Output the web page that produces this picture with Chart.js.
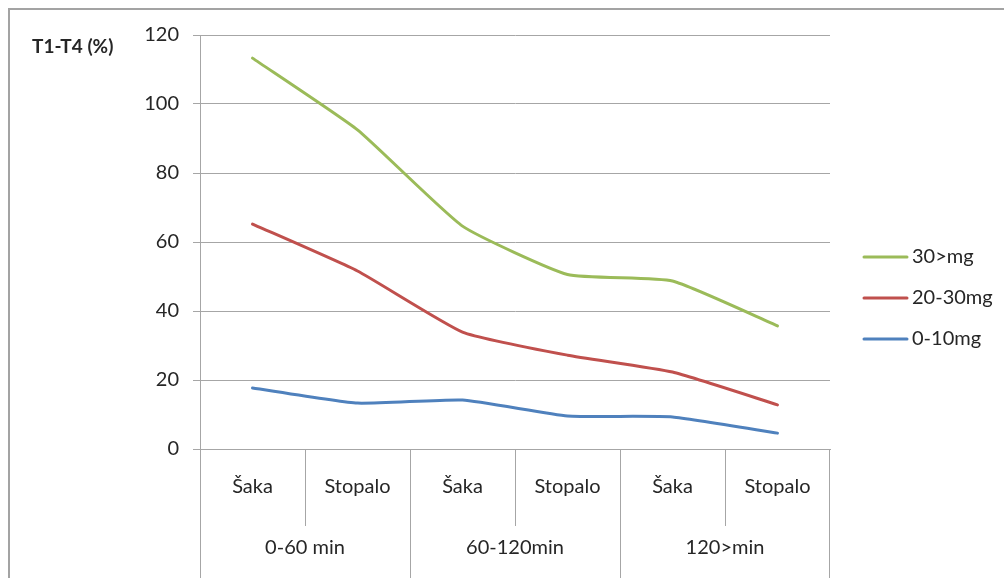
<!DOCTYPE html>
<html>
<head>
<meta charset="utf-8">
<script src="https://cdn.jsdelivr.net/npm/chart.js@4"></script>
<style>
  body { margin: 0; background: #fff; }
  canvas { display: block; }
</style>
</head>
<body>
<canvas id="chart" width="1004" height="578"></canvas>
<script>
// Sub categories (hand / foot) grouped by time window
const categories = ["Šaka", "Stopalo", "Šaka", "Stopalo", "Šaka", "Stopalo"];
const groups = ["0-60 min", "60-120min", "120>min"];
const yTicks = [0, 20, 40, 60, 80, 100, 120];

const dose0to10 = [17.7, 13.3, 14.2, 9.6, 9.3, 4.6];
const dose20to30 = [65.2, 51.6, 33.9, 27.2, 22.3, 12.8];
const dose30plus = [113.3, 92.5, 64.6, 50.6, 48.7, 35.7];

const FONT = "Lato, 'Open Sans', sans-serif";
const gridColor = "#a6a6a6";
const textColor = "#262626";

// frame, axis title, grouped category table and legend
const decorations = {
    id: "decorations",
    beforeDraw(chart) {
        const ctx = chart.ctx;
        ctx.save();
        ctx.strokeStyle = "#a3a3a3";
        ctx.lineWidth = 2;
        ctx.strokeRect(9, 9, 1200, 1000);
        ctx.restore();
    },
    afterDraw(chart) {
        const ctx = chart.ctx;
        const x = chart.scales.x;
        const area = chart.chartArea;
        const bottom = chart.height;
        ctx.save();

        ctx.fillStyle = textColor;
        ctx.font = "bold 19px " + FONT;
        ctx.textAlign = "left";
        ctx.textBaseline = "middle";
        ctx.fillText("T1-T4 (%)", 32, 47);

        // table lines under the axis
        const edge = (i) => (x.getPixelForTick(i) + x.getPixelForTick(i + 1)) / 2;
        ctx.strokeStyle = gridColor;
        ctx.lineWidth = 1;
        ctx.beginPath();
        ctx.moveTo(x.left + 0.5, area.bottom);
        ctx.lineTo(x.left + 0.5, bottom);
        ctx.moveTo(x.right - 0.5, area.bottom);
        ctx.lineTo(x.right - 0.5, bottom);
        for (let i = 0; i < categories.length - 1; i++) {
            const px = Math.round(edge(i)) + 0.5;
            const isGroup = i % 2 === 1;
            ctx.moveTo(px, area.bottom);
            ctx.lineTo(px, isGroup ? bottom : area.bottom + 77);
        }
        ctx.stroke();

        ctx.font = "20px " + FONT;
        ctx.textAlign = "center";
        groups.forEach((g, i) => {
            const left = i === 0 ? x.left : edge(i * 2 - 1);
            const right = i === groups.length - 1 ? x.right : edge(i * 2 + 1);
            ctx.fillText(g, (left + right) / 2, 548);
        });

        // legend, last series on top
        const items = chart.data.datasets.slice().reverse();
        ctx.textAlign = "left";
        items.forEach((ds, i) => {
            const y = 257 + i * 41;
            ctx.strokeStyle = ds.borderColor;
            ctx.lineWidth = 3;
            ctx.lineCap = "round";
            ctx.beginPath();
            ctx.moveTo(864, y);
            ctx.lineTo(907, y);
            ctx.stroke();
            ctx.fillStyle = textColor;
            ctx.fillText(ds.label, 912, y);
        });
        ctx.restore();
    }
};

new Chart(document.getElementById("chart"), {
    type: "line",
    data: {
        labels: categories,
        datasets: [
            { label: "0-10mg", data: dose0to10, borderColor: "#4f81bd" },
            { label: "20-30mg", data: dose20to30, borderColor: "#c0504d" },
            { label: "30>mg", data: dose30plus, borderColor: "#9bbb59" }
        ]
    },
    options: {
        responsive: false,
        animation: false,
        layout: { padding: { top: 35, right: 174, left: 0, bottom: 0 } },
        elements: {
            line: { borderWidth: 3, tension: 0.15, borderCapStyle: "round" },
            point: { radius: 0 }
        },
        plugins: {
            legend: { display: false },
            tooltip: { enabled: false }
        },
        scales: {
            x: {
                offset: true,
                grid: { display: false, drawTicks: false },
                border: { display: true, color: gridColor },
                ticks: { color: textColor, font: { family: FONT, size: 20 }, padding: 26, maxRotation: 0 },
                afterFit(scale) { scale.height = 129; }
            },
            y: {
                min: 0,
                max: 120,
                afterBuildTicks(scale) { scale.ticks = yTicks.map(v => ({ value: v })); },
                grid: { color: gridColor, tickLength: 7 },
                border: { display: true, color: gridColor },
                ticks: { color: textColor, font: { family: FONT, size: 20 }, padding: 14 },
                afterFit(scale) { scale.width = 200; }
            }
        }
    },
    plugins: [decorations]
});
</script>
</body>
</html>
